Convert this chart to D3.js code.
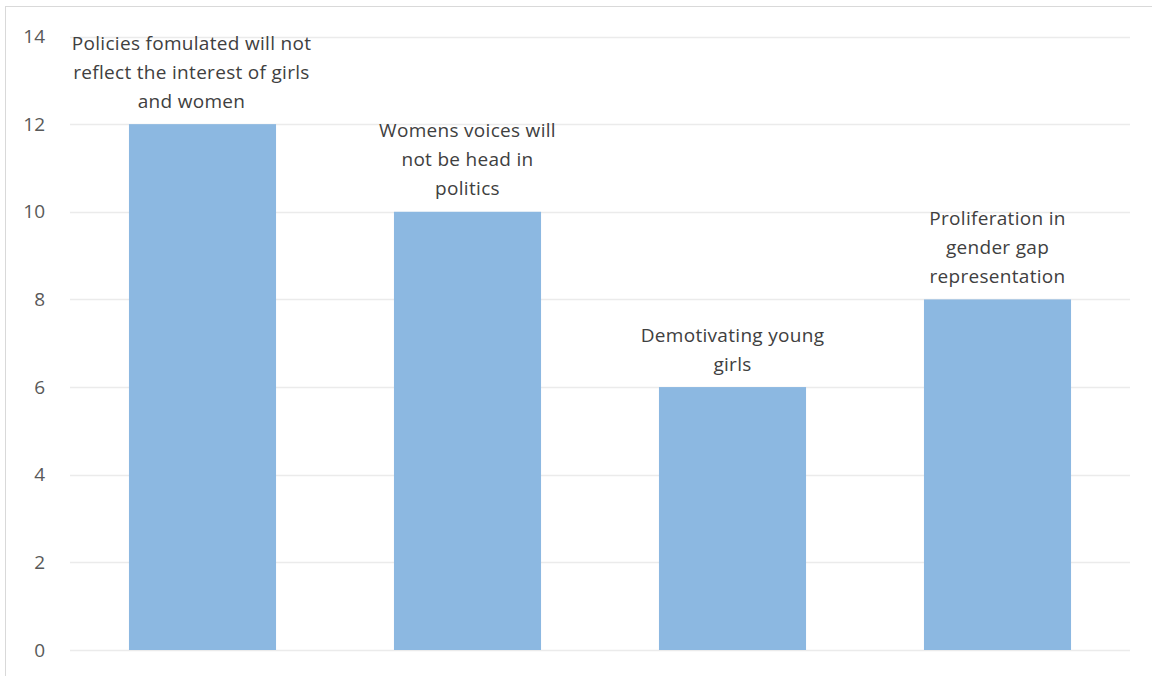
<!DOCTYPE html>
<html>
<head>
<meta charset="utf-8">
<script src="https://cdn.jsdelivr.net/npm/d3@7"></script>
<style>
  body { margin: 0; background: #fff; }
  svg { display: block; font-family: "Open Sans", "Liberation Sans", sans-serif; }
</style>
</head>
<body>
<div id="chart"></div>
<script>
// Categories (already wrapped the way the reference shows them)
const categories = [
    "Policies fomulated will not reflect the interest of girls and women",
    "Womens voices will not be head in politics",
    "Demotivating young girls",
    "Proliferation in gender gap representation"
];
const labelLines = [
    ["Policies fomulated will not", "reflect the interest of girls", "and women"],
    ["Womens voices will", "not be head in", "politics"],
    ["Demotivating young", "girls"],
    ["Proliferation in", "gender gap", "representation"]
];
const values = [12, 10, 6, 8];
const yTicks = [0, 2, 4, 6, 8, 10, 12, 14];

const width = 1152, height = 676;
const plot = { left: 70, right: 1130, top: 36.5, bottom: 650 };

const svg = d3.select('#chart')
    .append('svg')
    .attr('width', width)
    .attr('height', height);

// chart frame (runs off the right/bottom edge like the reference)
svg.append('rect')
    .attr('x', 5.5)
    .attr('y', 6.5)
    .attr('width', 1200)
    .attr('height', 700)
    .attr('fill', '#fff')
    .attr('stroke', '#d9d9d9')
    .attr('stroke-width', 1);

const x = d3.scaleBand()
    .domain(categories)
    .range([plot.left, plot.right])
    .paddingInner(0.445)
    .paddingOuter(0.2225);

const y = d3.scaleLinear()
    .domain([0, 14])
    .range([plot.bottom, plot.top]);

// gridlines
svg.append('g')
    .selectAll('line')
    .data(yTicks)
    .enter()
    .append('line')
    .attr('x1', plot.left)
    .attr('x2', plot.right)
    .attr('y1', d => Math.round(y(d)) + 0.5)
    .attr('y2', d => Math.round(y(d)) + 0.5)
    .attr('stroke', '#ebebeb')
    .attr('stroke-width', 1.5);

// y tick labels
svg.append('g')
    .selectAll('text')
    .data(yTicks)
    .enter()
    .append('text')
    .attr('x', 45)
    .attr('y', d => y(d))
    .attr('dy', '0.35em')
    .attr('text-anchor', 'end')
    .attr('font-size', '19px')
    .attr('fill', '#595959')
    .text(d => d);

// bars
svg.append('g')
    .selectAll('rect')
    .data(values)
    .enter()
    .append('rect')
    .attr('x', (d, i) => x(categories[i]))
    .attr('y', d => y(d))
    .attr('width', x.bandwidth())
    .attr('height', d => y(0) - y(d))
    .attr('fill', '#8cb8e1');

// data labels (category names) above each bar
const lineH = 29;
labelLines.forEach((lines, i) => {
    let cx = x(categories[i]) + x.bandwidth() / 2;
    // first label gets pushed left a bit to stay inside the chart
    if (i === 0) cx -= 11;
    const top = y(values[i]) - 23 - (lines.length - 1) * lineH;
    const t = svg.append('text')
        .attr('text-anchor', 'middle')
        .attr('font-size', '19px')
        .attr('letter-spacing', '0.3px')
        .attr('fill', '#404040');
    lines.forEach((ln, j) => {
        t.append('tspan')
            .attr('x', cx)
            .attr('y', top + j * lineH)
            .attr('dy', '0.35em')
            .text(ln);
    });
});
</script>
</body>
</html>
